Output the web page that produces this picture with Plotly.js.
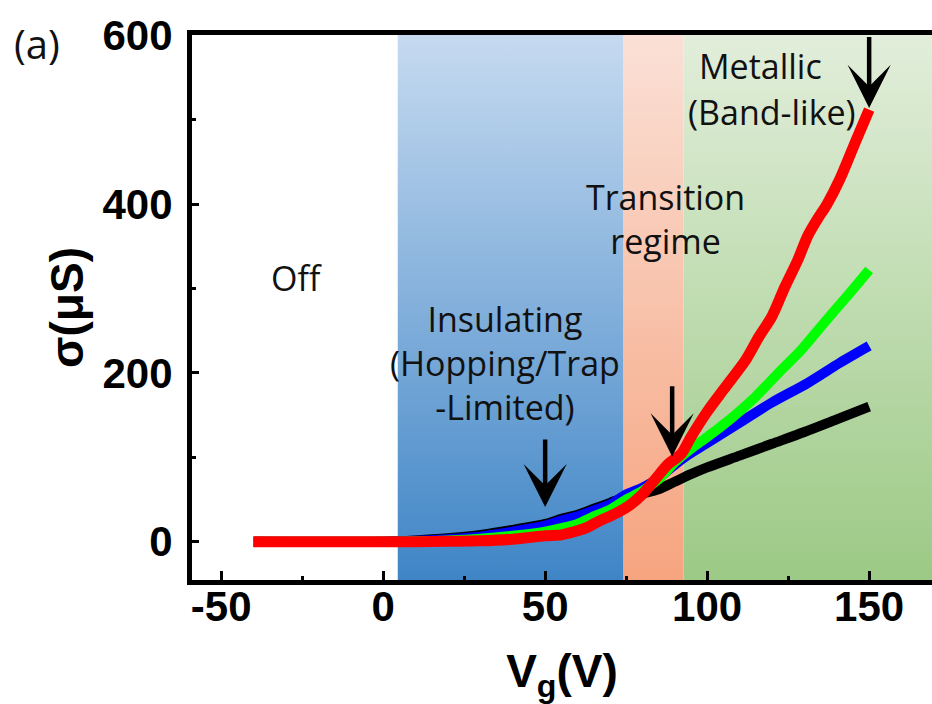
<!DOCTYPE html>
<html>
<head>
<meta charset="utf-8">
<script src="https://cdn.plot.ly/plotly-3.0.1.min.js"></script>
<style>html,body{margin:0;padding:0;background:#fff;overflow:hidden}#chart{width:932px;height:704px}</style>
</head>
<body>
<div id="chart"></div>
<script>
// ---- data ----
const vgBlack = [-40,0,10,20,30,40,50,55,60,65,70,75,80,85,90,95,100,110,120,130,140,150];
const sBlack  = [0,0,1.5,4,8,14,21,27,32,39,46,53,57,62,71,80,88,102,116,130,145,160];

const vgBlue = [-40,0,10,20,30,40,50,55,60,65,70,75,80,85,88,93,100,110,120,131,141,150];
const sBlue  = [0,0,1,3,6,12,19,25,30,37,44,56,64,75,85,100,117,141,165,188,212,232];

const vgGreen = [-40,0,10,20,30,40,50,55,60,65,70,75,80,85,90,95,100,108,115,122,129,136,143,150];
const sGreen  = [0,0,0.5,1.5,3.5,7,12,16,21,30,38,50,60,74,94,110,124,148,172,200,227,259,290,322];

const vgRed = [-40,-20,0,10,20,30,40,45,50,55,57,60,63,67,71,76,80,84,88,92,95,100,105,112,116,120,124,128,131,134,137,141,146,150];
const sRed  = [0,0,0,0,0.5,1,3,5,7,8,10,13,17,25,32,43,56,74,92,104,124,154,180,216,243,267,302,334,362,382,400,430,476,512];

const regionStart = [4.5, 74.2, 92.7];
const regionEnd   = [74.2, 92.7, 172];
const regionTop    = ['#c6daf0', '#fae0d6', '#e2eedb'];
const regionBottom = ['#3f85c6', '#f6a47f', '#9cc985'];

const xTickVals = [-50, 0, 50, 100, 150];
const yTickVals = [0, 200, 400, 600];

const Y_MIN = -45.4, Y_MAX = 600.5;
const X_MIN = -59, X_MAX = 169.4;

// ---- traces ----
const traces = [];
for (let i = 0; i < regionStart.length; i++) {
  traces.push({
    type: 'scatter', mode: 'lines',
    x: [regionStart[i], regionEnd[i], regionEnd[i], regionStart[i], regionStart[i]],
    y: [Y_MIN, Y_MIN, Y_MAX, Y_MAX, Y_MIN],
    fill: 'toself',
    fillcolor: regionBottom[i],
    fillgradient: {type: 'vertical', colorscale: [[0, regionBottom[i]], [1, regionTop[i]]]},
    line: {width: 0},
    hoverinfo: 'skip', showlegend: false
  });
}
const curve = (x, y, color, w) => ({
  type: 'scatter', mode: 'lines', x: x, y: y,
  line: {color: color, width: w, shape: 'spline', smoothing: 0.8}, showlegend: false, hoverinfo: 'x+y'
});
traces.push(curve(vgBlack, sBlack, '#000000', 10));
traces.push(curve(vgBlue, sBlue, '#0000ff', 10));
traces.push(curve(vgGreen, sGreen, '#00ff00', 10));
traces.push(curve(vgRed, sRed, '#ff0000', 11));

const txtFont = {family: 'Open Sans, DejaVu Sans, sans-serif', size: 34, weight: 500, color: '#111111'};
const arrow = (x, y, ax, ay) => ({
  x: x, y: y, ax: ax, ay: ay, xref: 'x', yref: 'y', axref: 'x', ayref: 'y',
  text: '', showarrow: true, arrowhead: 3, arrowsize: 1.6, arrowwidth: 4.5,
  arrowcolor: '#000000', standoff: 0
});

const layout = {
  width: 932, height: 704,
  margin: {l: 192, r: 0, t: 35, b: 124},
  paper_bgcolor: '#ffffff', plot_bgcolor: '#ffffff',
  showlegend: false,
  xaxis: {
    range: [X_MIN, X_MAX],
    tickvals: xTickVals, ticktext: xTickVals.map(String),
    ticks: 'inside', ticklen: 9, tickwidth: 3, tickcolor: '#000',
    minor: {dtick: 25, tick0: 0, ticks: 'inside', ticklen: 4, tickwidth: 3, tickcolor: '#000'},
    showline: true, linewidth: 5, linecolor: '#000', mirror: true,
    showgrid: false, zeroline: false,
    tickfont: {family: 'Liberation Sans, Arial, sans-serif', size: 42, weight: 'bold', color: '#000'},
    ticklabelstandoff: -14,
    title: {text: 'V<sub>g</sub>(V)', standoff: 34,
      font: {family: 'Liberation Sans, Arial, sans-serif', size: 46, weight: 'bold', color: '#000'}}
  },
  yaxis: {
    range: [Y_MIN, Y_MAX],
    tickvals: yTickVals, ticktext: yTickVals.map(String),
    ticks: 'inside', ticklen: 7, tickwidth: 3, tickcolor: '#000',
    minor: {dtick: 100, tick0: 0, ticks: 'inside', ticklen: 4, tickwidth: 3, tickcolor: '#000'},
    showline: true, linewidth: 5, linecolor: '#000', mirror: false,
    showgrid: false, zeroline: false,
    tickfont: {family: 'Liberation Sans, Arial, sans-serif', size: 42, weight: 'bold', color: '#000'},
    ticklabelstandoff: 6,
    title: {text: 'σ(μS)', standoff: 6,
      font: {family: 'Liberation Sans, Arial, sans-serif', size: 46, weight: 'bold', color: '#000'}}
  },
  annotations: [
    {text: '(a)', xref: 'paper', yref: 'paper', x: -0.21, y: 0.985, xanchor: 'center', yanchor: 'middle',
      showarrow: false, font: {family: 'Open Sans, DejaVu Sans, sans-serif', size: 40, weight: 500, color: '#111'}},
    {text: 'Off', x: -26.9, y: 312, xref: 'x', yref: 'y', showarrow: false, font: txtFont},
    {text: 'Insulating<br>(Hopping/Trap<br>-Limited)', x: 37.5, y: 212, xref: 'x', yref: 'y', showarrow: false, font: txtFont},
    {text: 'Transition<br>regime', x: 87, y: 382, xref: 'x', yref: 'y', showarrow: false, font: txtFont},
    {text: 'Metallic', x: 116.4, y: 564, xref: 'x', yref: 'y', showarrow: false, font: txtFont},
    {text: '(Band-like)', x: 120, y: 509, xref: 'x', yref: 'y', showarrow: false, font: txtFont},
    arrow(50, 41, 50, 123),
    arrow(89.2, 101, 89.2, 186),
    arrow(150, 514, 150, 600)
  ]
};

Plotly.newPlot('chart', traces, layout, {displayModeBar: false, staticPlot: true});
</script>
</body>
</html>
